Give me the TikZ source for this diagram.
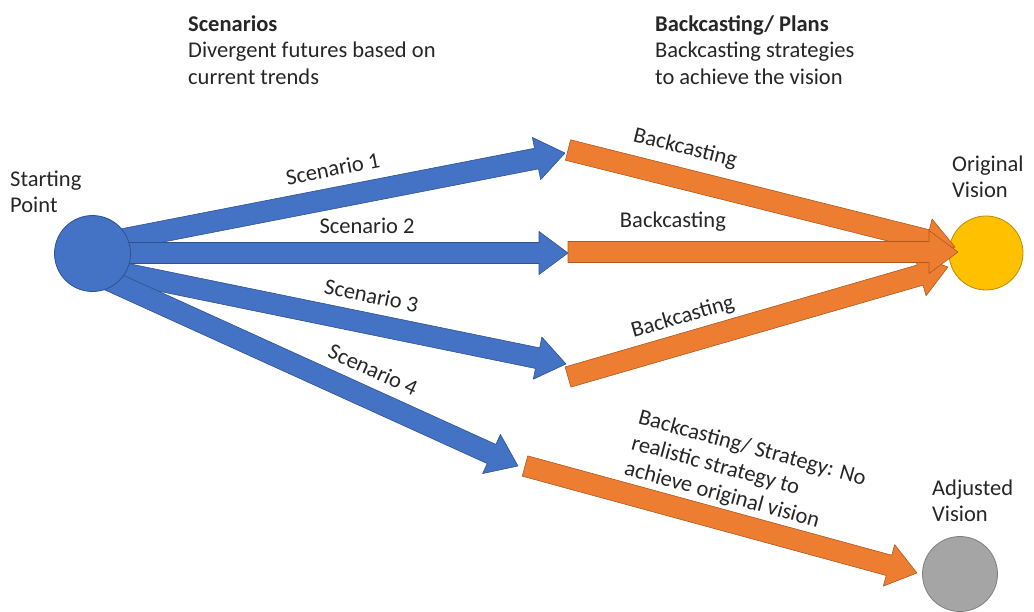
\documentclass[tikz,border=0pt]{standalone}
\usepackage{fontspec}
\setmainfont{Carlito}
\usetikzlibrary{calc}
\definecolor{arrowblue}{HTML}{4472C4}
\definecolor{arrowbluedark}{HTML}{2F528F}
\definecolor{arroworange}{HTML}{ED7D31}
\definecolor{arroworangedark}{HTML}{AE5A21}
\definecolor{visionyellow}{HTML}{FFC000}
\definecolor{visionyellowdark}{HTML}{BC8C00}
\definecolor{visiongray}{HTML}{A5A5A5}
\definecolor{visiongraydark}{HTML}{7F7F7F}
\definecolor{txt}{HTML}{262626}
% block arrow: #1 style, #2 tail coordinate, #3 tip coordinate
\newcommand{\blockarrow}[3]{%
  \path[#1] let \p1=($(#3)-(#2)$), \n1={atan2(\y1,\x1)}, \n2={veclen(\x1,\y1)} in
    ([shift={(#2)},rotate=\n1]0,-10.5)
    -- ([shift={(#2)},rotate=\n1]{\n2-29},-10.5)
    -- ([shift={(#2)},rotate=\n1]{\n2-29},-21.5)
    -- ([shift={(#2)},rotate=\n1]{\n2},0)
    -- ([shift={(#2)},rotate=\n1]{\n2-29},21.5)
    -- ([shift={(#2)},rotate=\n1]{\n2-29},10.5)
    -- ([shift={(#2)},rotate=\n1]0,10.5) -- cycle;}
\begin{document}
\begin{tikzpicture}[x=1pt,y=-1pt,
  txtfont/.style={font=\fontsize{22.5}{26.5}\selectfont, text=txt, inner sep=0pt},
  block/.style={txtfont, align=left, anchor=north west},
  lab/.style={txtfont, sloped},
  bluearrow/.style={fill=arrowblue, draw=arrowbluedark, line width=0.6pt, line join=round},
  orangearrow/.style={fill=arroworange, draw=arroworangedark, line width=0.6pt, line join=round},
  disc/.style={circle, inner sep=0pt, line width=0.8pt}]
\path[use as bounding box] (0,0) rectangle (1034,611);

% header texts
\node[block] (scen) at (188,12.5) {\strut\textbf{Scenarios}\\\strut Divergent futures based on\\\strut current trends};
\node[block] (plans) at (655,12.5) {\strut\textbf{Backcasting/ Plans}\\\strut Backcasting strategies\\\strut to achieve the vision};

% arrow end points
\coordinate (s1) at (93,245);
\coordinate (s2) at (93,253);
\coordinate (s3) at (93,267);
\coordinate (s4) at (93,273);
\coordinate (b1) at (565,153);
\coordinate (b2) at (568,253);
\coordinate (b3) at (566,364);
\coordinate (b4) at (518,466);
\coordinate (o1s) at (568,150);
\coordinate (o1e) at (955,247);
\coordinate (o2s) at (568,252);
\coordinate (o2e) at (958,252);
\coordinate (o3s) at (568,377);
\coordinate (o3e) at (948,267);
\coordinate (o4s) at (525,466);
\coordinate (o4e) at (917,573);

% scenario arrows
\blockarrow{bluearrow}{s1}{b1}
\blockarrow{bluearrow}{s2}{b2}
\blockarrow{bluearrow}{s3}{b3}
\blockarrow{bluearrow}{s4}{b4}

% circles
\node[disc, fill=arrowblue, draw=arrowbluedark, minimum size=76pt] (start) at (92.5,253.5) {};
\node[disc, fill=visionyellow, draw=visionyellowdark, minimum size=74pt] (orig) at (986,253) {};
\node[disc, fill=visiongray, draw=visiongraydark, minimum size=75pt] (adj) at (960,574) {};

% backcasting arrows
\blockarrow{orangearrow}{o1s}{o1e}
\blockarrow{orangearrow}{o3s}{o3e}
\blockarrow{orangearrow}{o2s}{o2e}
\blockarrow{orangearrow}{o4s}{o4e}

% point labels
\node[block] (startlab) at (10,167.5) {\strut Starting\\\strut Point};
\node[block] (origlab) at (952,152.5) {\strut Original\\\strut Vision};
\node[block] (adjlab) at (932,476.5) {\strut Adjusted\\\strut Vision};

% arrow labels
\path (s1) -- (b1) node[lab, pos=0.52, above=13.5pt] (l1) {\strut Scenario 1};
\path (s2) -- (b2) node[lab, pos=0.577, above=11pt] (l2) {\strut Scenario 2};
\path (s3) -- (b3) node[lab, pos=0.577, above=12.25pt] (l3) {\strut Scenario 3};
\path (s4) -- (b4) node[lab, pos=0.632, above=12pt] (l4) {\strut Scenario 4};
\path (o1s) -- (o1e) node[lab, pos=0.284, above=16pt] (k1) {\strut Backcasting};
\path (o2s) -- (o2e) node[lab, pos=0.269, above=16.5pt] (k2) {\strut Backcasting};
\path (o3s) -- (o3e) node[lab, pos=0.321, above=11.5pt] (k3) {\strut Backcasting};
\path (o4s) -- (o4e) node[lab, align=left, pos=0.528, above=9.5pt] (k4) {\strut Backcasting/ Strategy: No\\\strut realistic strategy to\\\strut achieve original vision};
\end{tikzpicture}
\end{document}
